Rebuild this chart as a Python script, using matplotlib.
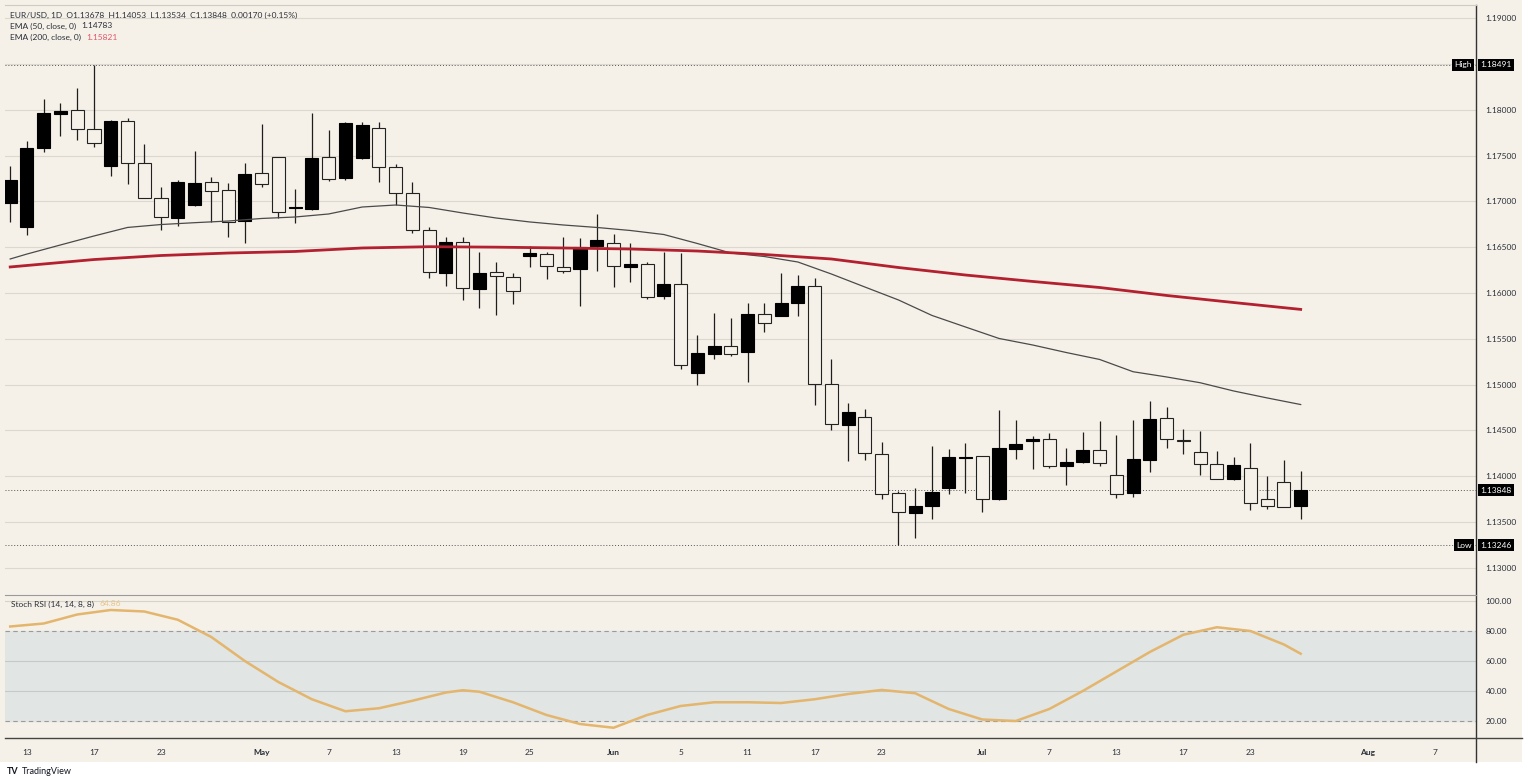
import numpy as np
import pandas as pd
import matplotlib
matplotlib.use("Agg")
import matplotlib.pyplot as plt
from matplotlib.patches import Rectangle
from matplotlib.lines import Line2D
from matplotlib.transforms import blended_transform_factory

plt.rcParams['font.family'] = ['Lato', 'DejaVu Sans']

# ---- data (EUR/USD daily) ----
first_day = "2026-04-10"
last_day = "2026-07-28"

opens = [1.16979, 1.16723, 1.17579, 1.17949, 1.17996, 1.17786, 1.17389, 1.17880, 1.17415, 1.17040,
         1.16815, 1.16957, 1.17214, 1.17120, 1.16782, 1.17306, 1.17480, 1.16927, 1.16916, 1.17480,
         1.17251, 1.17473, 1.17797, 1.17371, 1.17094, 1.16687, 1.16215, 1.16560, 1.16047, 1.16226,
         1.16178, 1.16407, 1.16425, 1.16280, 1.16259, 1.16513, 1.16549, 1.16287, 1.16316, 1.15971,
         1.16095, 1.15131, 1.15335, 1.15422, 1.15353, 1.15774, 1.15749, 1.15894, 1.16076, 1.15004,
         1.14560, 1.14651, 1.14240, 1.13815, 1.13603, 1.13680, 1.13869, 1.14205, 1.14222, 1.13753,
         1.14295, 1.14382, 1.14404, 1.14113, 1.14156, 1.14287, 1.14011, 1.13815, 1.14182, 1.14633,
         1.14400, 1.14269, 1.14131, 1.13968, 1.14088, 1.13750, 1.13935, 1.13678]
highs = [1.17385, 1.17658, 1.18113, 1.18076, 1.18233, 1.18491, 1.17887, 1.17906, 1.17625, 1.17160,
         1.17233, 1.17552, 1.17262, 1.17203, 1.17415, 1.17844, 1.17485, 1.17131, 1.17960, 1.17778,
         1.17869, 1.17869, 1.17869, 1.17407, 1.17214, 1.16723, 1.16608, 1.16614, 1.16444, 1.16341,
         1.16215, 1.16516, 1.16451, 1.16608, 1.16603, 1.16859, 1.16640, 1.16549, 1.16335, 1.16444,
         1.16433, 1.15542, 1.15779, 1.15724, 1.15888, 1.15888, 1.16215, 1.16196, 1.16160, 1.15277,
         1.14803, 1.14731, 1.14378, 1.13840, 1.13869, 1.14334, 1.14295, 1.14360, 1.14225, 1.14724,
         1.14615, 1.14443, 1.14470, 1.14306, 1.14480, 1.14604, 1.14451, 1.14615, 1.14822, 1.14760,
         1.14513, 1.14491, 1.14280, 1.14208, 1.14360, 1.14004, 1.14178, 1.14053]
lows = [1.16775, 1.16633, 1.17541, 1.17713, 1.17669, 1.17596, 1.17280, 1.17189, 1.17033, 1.16687,
        1.16734, 1.16950, 1.16771, 1.16608, 1.16542, 1.17153, 1.16815, 1.16760, 1.16910, 1.17222,
        1.17233, 1.17465, 1.17214, 1.16957, 1.16651, 1.16160, 1.16080, 1.15924, 1.15833, 1.15760,
        1.15880, 1.16287, 1.16153, 1.16215, 1.15858, 1.16243, 1.16069, 1.16123, 1.15938, 1.15935,
        1.15171, 1.14996, 1.15277, 1.15316, 1.15026, 1.15571, 1.15745, 1.15749, 1.14778, 1.14505,
        1.14171, 1.14178, 1.13750, 1.13246, 1.13331, 1.13535, 1.13804, 1.13815, 1.13614, 1.13742,
        1.14189, 1.14077, 1.14088, 1.13906, 1.14150, 1.14113, 1.13767, 1.13778, 1.14051, 1.14306,
        1.14240, 1.14015, 1.13968, 1.13965, 1.13633, 1.13640, 1.13660, 1.13534]
closes = [1.17233, 1.17579, 1.17960, 1.17985, 1.17792, 1.17633, 1.17880, 1.17421, 1.17040, 1.16826,
          1.17214, 1.17200, 1.17109, 1.16771, 1.17301, 1.17192, 1.16887, 1.16935, 1.17469, 1.17244,
          1.17858, 1.17833, 1.17378, 1.17094, 1.16687, 1.16226, 1.16560, 1.16051, 1.16221, 1.16182,
          1.16022, 1.16440, 1.16295, 1.16243, 1.16505, 1.16575, 1.16298, 1.16313, 1.15960, 1.16095,
          1.15215, 1.15342, 1.15422, 1.15335, 1.15771, 1.15673, 1.15894, 1.16076, 1.15004, 1.14568,
          1.14705, 1.14258, 1.13804, 1.13608, 1.13680, 1.13826, 1.14214, 1.14210, 1.13756, 1.14312,
          1.14349, 1.14407, 1.14113, 1.14156, 1.14287, 1.14142, 1.13807, 1.14192, 1.14629, 1.14404,
          1.14385, 1.14135, 1.13974, 1.14120, 1.13712, 1.13676, 1.13662, 1.13848]

ema50_dates = ["2026-04-10", "2026-04-13", "2026-04-15", "2026-04-17", "2026-04-21", "2026-04-23",
               "2026-04-27", "2026-04-29", "2026-05-01", "2026-05-05", "2026-05-07", "2026-05-11",
               "2026-05-13", "2026-05-15", "2026-05-19", "2026-05-21", "2026-05-25", "2026-05-27",
               "2026-05-29", "2026-06-02", "2026-06-04", "2026-06-08", "2026-06-10", "2026-06-12",
               "2026-06-16", "2026-06-18", "2026-06-22", "2026-06-24", "2026-06-26", "2026-06-30",
               "2026-07-02", "2026-07-06", "2026-07-08", "2026-07-10", "2026-07-14", "2026-07-16",
               "2026-07-20", "2026-07-22", "2026-07-24", "2026-07-28"]
ema50_vals = [1.16371, 1.16425, 1.16524, 1.16622, 1.16715, 1.16747, 1.16767, 1.16785, 1.16813, 1.16829,
              1.16862, 1.16938, 1.16960, 1.16933, 1.16873, 1.16818, 1.16775, 1.16742, 1.16715, 1.16682,
              1.16638, 1.16540, 1.16436, 1.16398, 1.16338, 1.16207, 1.16065, 1.15924, 1.15755, 1.15629,
              1.15504, 1.15433, 1.15351, 1.15275, 1.15141, 1.15084, 1.15021, 1.14931, 1.14855, 1.14783]

ema200_dates = ["2026-04-10", "2026-04-17", "2026-04-23", "2026-04-29", "2026-05-05", "2026-05-11",
                "2026-05-15", "2026-05-21", "2026-05-27", "2026-06-02", "2026-06-08", "2026-06-12",
                "2026-06-18", "2026-06-24", "2026-06-30", "2026-07-06", "2026-07-10", "2026-07-16",
                "2026-07-22", "2026-07-28"]
ema200_vals = [1.16284, 1.16365, 1.16409, 1.16436, 1.16453, 1.16491, 1.16505, 1.16500, 1.16491, 1.16480,
               1.16458, 1.16420, 1.16371, 1.16278, 1.16196, 1.16126, 1.16060, 1.15973, 1.15896, 1.15821]

stoch_dates = ["2026-04-10", "2026-04-14", "2026-04-16", "2026-04-20", "2026-04-22", "2026-04-24",
               "2026-04-28", "2026-04-30", "2026-05-04", "2026-05-06", "2026-05-08", "2026-05-12",
               "2026-05-14", "2026-05-18", "2026-05-19", "2026-05-20", "2026-05-22", "2026-05-26",
               "2026-05-28", "2026-06-01", "2026-06-03", "2026-06-05", "2026-06-09", "2026-06-11",
               "2026-06-15", "2026-06-17", "2026-06-19", "2026-06-23", "2026-06-25", "2026-06-29",
               "2026-07-01", "2026-07-03", "2026-07-07", "2026-07-09", "2026-07-13", "2026-07-15",
               "2026-07-17", "2026-07-21", "2026-07-23", "2026-07-27", "2026-07-28"]
stoch_vals = [83, 85, 91, 94, 93, 87.5, 76, 60, 46, 34.5, 26.5, 28.5, 33.5, 39, 40.5, 39.5, 32.5, 24,
              18, 15.5, 24, 30, 32.5, 32.5, 32, 34.5, 38, 40.7, 38.5, 28, 21, 20, 28, 40, 53, 66,
              77.5, 82.5, 80, 71, 64.86]

tick_dates = ["2026-04-13", "2026-04-17", "2026-04-23", "2026-05-01", "2026-05-07", "2026-05-13",
              "2026-05-19", "2026-05-25", "2026-06-01", "2026-06-05", "2026-06-11", "2026-06-17",
              "2026-06-23", "2026-07-01", "2026-07-07", "2026-07-13", "2026-07-17", "2026-07-23",
              "2026-08-03", "2026-08-07"]
tick_labels = ["13", "17", "23", "May", "7", "13", "19", "25", "Jun", "5", "11", "17", "23", "Jul",
               "7", "13", "17", "23", "Aug", "7"]

price_high, price_low, last_close = 1.18491, 1.13246, 1.13848

# ---- positions on a trading-day axis ----
days = pd.bdate_range(first_day, "2026-08-14")


def pos(d):
    return days.get_indexer(pd.to_datetime(d))


x = np.arange(len(opens))
o, h, l, c = map(np.array, (opens, highs, lows, closes))
up = c >= o

bg = '#f5f1e8'
txt = '#2a2e39'
W, H = 1528, 784

fig = plt.figure(figsize=(W / 100, H / 100), dpi=100, facecolor='white')
fig.patches.append(Rectangle((0, 1 - 762 / H), 1522 / W, 762 / H, transform=fig.transFigure,
                             facecolor=bg, edgecolor='none', zorder=-10))

ax = fig.add_axes([5 / W, 1 - 594 / H, 1471 / W, 589 / H], facecolor=bg)
ax2 = fig.add_axes([5 / W, 1 - 738 / H, 1471 / W, 142 / H], facecolor=bg, sharex=ax)

# candles
ax.vlines(x, l, h, color='#1e1e1e', lw=0.9, zorder=2)
body_h = np.maximum(np.abs(c - o), 0.00004)
ax.bar(x[up], body_h[up], bottom=np.minimum(o, c)[up], width=0.78,
       color='black', edgecolor='black', lw=0.8, zorder=3)
ax.bar(x[~up], body_h[~up], bottom=np.minimum(o, c)[~up], width=0.78,
       color=bg, edgecolor='#222222', lw=0.8, zorder=3)

# moving averages
ax.plot(pos(ema50_dates), ema50_vals, color='#4a4a4a', lw=0.9, zorder=4)
ax.plot(pos(ema200_dates), ema200_vals, color='#b3202f', lw=2.0, zorder=4)

# high / low / last lines
for p in (price_high, price_low, last_close):
    ax.axhline(p, color='#555555', lw=0.7, ls=(0, (1, 2)), zorder=1)

ax.set_xlim(-0.31, 87.46)
ax.set_ylim(1.12716, 1.19142)
yt = np.round(np.arange(1.13, 1.19001, 0.005), 3)
ax.set_yticks(yt)
ax.set_yticklabels(['' if abs(v - 1.185) < 1e-9 else f'{v:.5f}' for v in yt])
ax.yaxis.tick_right()
ax.tick_params(axis='y', length=0, pad=7, labelsize=6, colors=txt)
ax.tick_params(axis='x', length=0, labelbottom=False)
ax.grid(axis='y', color='#dcd8cf', lw=0.8)
ax.set_axisbelow(True)
for s in ax.spines.values():
    s.set_visible(False)

tr = blended_transform_factory(ax.transAxes, ax.transData)
box = dict(facecolor='black', edgecolor='none', boxstyle='square,pad=0.3')
for p, name in ((price_high, 'High'), (price_low, 'Low')):
    ax.annotate(name, xy=(1, p), xycoords=tr, xytext=(-3, 0), textcoords='offset points',
                ha='right', va='center', fontsize=6, color='white', bbox=box, annotation_clip=False)
for p in (price_high, price_low, last_close):
    ax.annotate(f'{p:.5f}', xy=(1, p), xycoords=tr, xytext=(3, 0), textcoords='offset points',
                ha='left', va='center', fontsize=6, color='white', bbox=box, annotation_clip=False,
                zorder=10)

# stoch rsi pane
ax2.axhspan(20, 80, color='#e1e5e3', zorder=0)
ax2.axhline(100, color='#d6d2c8', lw=0.8)
for v in (60, 40):
    ax2.axhline(v, color='#c4c9c9', lw=0.8)
for v in (80, 20):
    ax2.axhline(v, color='#9a9a9a', lw=0.8, ls=(0, (4, 3)))
ax2.plot(pos(stoch_dates), stoch_vals, color='#e3b56d', lw=1.8, zorder=3)
ax2.set_ylim(8.67, 103.33)
ax2.set_yticks([20, 40, 60, 80, 100])
ax2.set_yticklabels([f'{v:.2f}' for v in (20, 40, 60, 80, 100)])
ax2.yaxis.tick_right()
ax2.tick_params(axis='y', length=0, pad=7, labelsize=6, colors=txt)
ax2.set_xticks(pos(tick_dates))
ax2.set_xticklabels(tick_labels)
ax2.tick_params(axis='x', length=0, pad=8, labelsize=6, colors=txt)
for t in ax2.get_xticklabels():
    if t.get_text() in ('May', 'Jun', 'Jul', 'Aug'):
        t.set_fontweight('bold')
for s in ax2.spines.values():
    s.set_visible(False)

# frame lines
fig.add_artist(Line2D([1476 / W, 1476 / W], [1 - 5 / H, 1 - 762 / H], color='#333333', lw=1.0))
fig.add_artist(Line2D([5 / W, 1522 / W], [1 - 738 / H, 1 - 738 / H], color='#444444', lw=1.0))
fig.add_artist(Line2D([5 / W, 1476 / W], [1 - 595 / H, 1 - 595 / H], color='#9a9a9a', lw=0.8))
fig.add_artist(Line2D([5 / W, 1476 / W], [1 - 5 / H, 1 - 5 / H], color='#cfcbc2', lw=0.8))

# legend texts
t1 = fig.text(10 / W, 1 - 15 / H, 'EUR/USD, 1D  O1.13678  H1.14053  L1.13534  C1.13848  0.00170 (+0.15%)',
              fontsize=6, color=txt, va='center')
t2 = fig.text(10 / W, 1 - 26 / H, 'EMA (50, close, 0)', fontsize=6, color=txt, va='center')
fig.text(0, 0, '1.14783', fontsize=6, color=txt, va='center')
t3 = fig.text(10 / W, 1 - 37 / H, 'EMA (200, close, 0)', fontsize=6, color=txt, va='center')
t4 = fig.text(11 / W, 1 - 604 / H, 'Stoch RSI (14, 14, 8, 8)', fontsize=6, color=txt, va='center')
fig.texts[-3].remove()
ax.annotate('1.14783', xy=(1, 0.5), xycoords=t2, xytext=(4, 0), textcoords='offset points',
            va='center', fontsize=6, color=txt)
ax.annotate('1.15821', xy=(1, 0.5), xycoords=t3, xytext=(4, 0), textcoords='offset points',
            va='center', fontsize=6, color='#e0566a')
ax2.annotate('64.86', xy=(1, 0.5), xycoords=t4, xytext=(4, 0), textcoords='offset points',
             va='center', fontsize=6, color='#e8c58a')

fig.text(7 / W, 1 - 772 / H, 'TV', fontsize=6.5, fontweight='bold', color='#131722', va='center')
fig.text(22 / W, 1 - 772 / H, 'TradingView', fontsize=6.5, color='#131722', va='center')

fig.savefig('out.png', dpi=100, facecolor=fig.get_facecolor())
